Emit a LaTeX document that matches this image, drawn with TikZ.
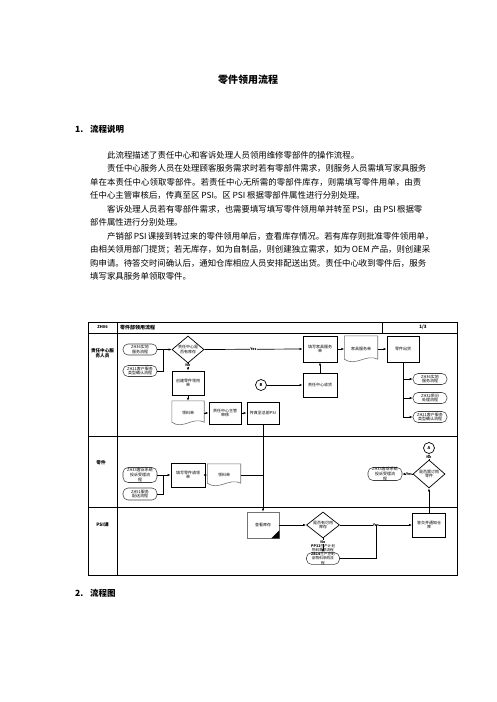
\documentclass[tikz,border=0pt]{standalone}
\usepackage{fontspec}
\setmainfont{Noto Sans CJK SC}
\usetikzlibrary{shapes.geometric,arrows.meta}
\makeatletter
\newcommand\spreadline[2]{\hbox to #1{\let\my@sep\relax\@tfor\my@ch:=#2\do{\my@sep\my@ch\let\my@sep\hfil}}}
\makeatother
\newcommand\docoutline[1]{\draw[docline] (#1.north west) -- (#1.north east) -- ([yshift=3pt]#1.south east) .. controls ([xshift=-11pt,yshift=9pt]#1.south east) and ([xshift=11pt,yshift=-5pt]#1.south west) .. ([yshift=3pt]#1.south west) -- cycle;}
\begin{document}
\begin{tikzpicture}[x=1pt,y=-1pt,
  every node/.style={inner sep=0pt},
  ptxt/.style={anchor=west,font=\fontsize{8.4}{10}\selectfont},
  frame/.style={line width=0.9pt},
  ln/.style={line width=0.7pt},
  arr/.style={line width=0.7pt,-{Latex[length=3pt,width=2.4pt]}},
  fc/.style={font=\fontsize{4}{4.6}\selectfont,align=center},
  procbox/.style={draw,line width=0.9pt,fc,minimum width=32pt,minimum height=24pt},
  termbox/.style={draw=black!75,line width=0.55pt,rounded corners=5pt,fc,minimum width=34pt,minimum height=11pt,fill=white},
  decision/.style={draw,diamond,line width=0.7pt,fc,minimum width=32pt,minimum height=27pt,aspect=1.2},
  docnode/.style={fc,minimum width=33pt,minimum height=24pt},
  docline/.style={draw=black!55,line width=0.6pt},
  conn/.style={circle,draw,line width=0.7pt,minimum size=11pt,font=\fontsize{4}{4.6}\selectfont\bfseries},
  lbl/.style={font=\fontsize{3.6}{4}\selectfont\bfseries,fill=white,inner sep=0.3pt},
  lane/.style={font=\fontsize{4.6}{5.4}\selectfont\bfseries,align=center}
]
\useasboundingbox (0,0) rectangle (496,702);

% ---- title and text ----
\node[font=\fontsize{10}{12}\selectfont\bfseries] (title) at (248,80) {零件领用流程};
\node[anchor=west,font=\fontsize{8.5}{10}\selectfont\bfseries] (n1) at (75,129) {1.};
\node[anchor=west,font=\fontsize{8.5}{10}\selectfont\bfseries] (h1) at (90,129) {流程说明};

\node[ptxt] (p1) at (107,155) {此流程描述了责任中心和客诉处理人员领用维修零部件的操作流程。};
\node[ptxt] (p2) at (107,168.5) {\spreadline{314pt}{责任中心服务人员在处理顾客服务需求时若有零部件需求，则服务人员需填写家具服务}};
\node[ptxt] (p3) at (90,182) {\spreadline{331pt}{单在本责任中心领取零部件。若责任中心无所需的零部件库存，则需填写零件用单，由责}};
\node[ptxt] (p4) at (90,195.5) {任中心主管审核后，传真至区 PSI。区 PSI 根据零部件属性进行分别处理。};
\node[ptxt] (p5) at (107,209) {\spreadline{314pt}{客诉处理人员若有零部件需求，也需要填写填写零件领用单并转至{\,PSI}，由{\,PSI\,}根据零}};
\node[ptxt] (p6) at (90,222.5) {部件属性进行分别处理。};
\node[ptxt] (p7) at (107,236) {\spreadline{314pt}{产销部{\,PSI\,}课接到转过来的零件领用单后，查看库存情况。若有库存则批准零件领用单，}};
\node[ptxt] (p8) at (90,249.5) {\spreadline{331pt}{由相关领用部门提货；若无库存，如为自制品，则创建独立需求，如为{\,OEM\,}产品，则创建采}};
\node[ptxt] (p9) at (90,263) {\spreadline{331pt}{购申请。待答交时间确认后，通知仓库相应人员安排配送出货。责任中心收到零件后，服务}};
\node[ptxt] (p10) at (90,276.5) {填写家具服务单领取零件。};

\node[anchor=west,font=\fontsize{8.5}{10}\selectfont\bfseries] (n2) at (75,593) {2.};
\node[anchor=west,font=\fontsize{8.5}{10}\selectfont\bfseries] (h2) at (90,593) {流程图};

% ---- frame ----
\draw[frame] (88,322) rectangle (457,575);
\draw[frame] (88,333) -- (457,333);
\draw[frame] (117,322) -- (117,575);
\draw[frame] (382,322) -- (382,333);
\draw[frame] (88,436) -- (457,436);
\draw[frame] (88,507) -- (457,507);
\node[font=\fontsize{4}{5}\selectfont\bfseries] (code) at (102.5,327.5) {ZH06};
\node[anchor=west,font=\fontsize{5}{6}\selectfont\bfseries] (htitle) at (120,327.5) {零件部领用流程};
\node[font=\fontsize{4.5}{5}\selectfont\bfseries] (page) at (423,327.5) {1/3};
\node[lane] (l1) at (102.5,353) {责任中心服\\务人员};
\node[lane] (l2) at (101,463) {零件};
\node[lane] (l3) at (102.5,525) {PSI课};

% ---- lane 1 ----
\node[termbox] (t1) at (140,349.5) {ZH36实地\\服务流程};
\node[termbox] (t2) at (140,371) {ZH21客户服务\\类型确认流程};
\coordinate (j1) at (163,349.5);
\node[decision] (d1) at (188,349.5) {责任中心是\\否有库存};
\node[procbox] (b1) at (188,383) {创建零件领用\\单};
\node[docnode,minimum width=32pt] (doc1) at (188,413) {领料单};
\docoutline{doc1}
\node[procbox,minimum height=22pt] (b2) at (225,413) {责任中心主管\\审核};
\node[procbox,minimum height=22pt] (b3) at (263,413) {传真至总部PSI};
\node[conn] (cB) at (261,385) {B};
\node[procbox,minimum width=34pt] (b4) at (320,385) {责任中心收货};
\node[procbox,minimum width=34pt,minimum height=26pt] (b5) at (320,349) {填写家具服务\\单};
\node[docnode,minimum height=26pt] (doc2) at (361,349) {家具服务单};
\docoutline{doc2}
\node[procbox,minimum height=26pt] (b6) at (403,349) {零件出货};
\node[termbox] (t3) at (430,379) {ZH36实地\\服务流程};
\node[termbox] (t4) at (430,398) {ZH32质问\\处理流程};
\node[termbox] (t5) at (430,417) {ZH21客户服务\\类型确认流程};
\coordinate (j3) at (403,417);

\draw[ln] (t2.east) -| (j1);
\draw[arr] (t1.east) -- (d1.west);
\draw[arr] (d1.east) -- node[lbl] (y1) {Yes} (b5.west);
\draw[arr] (d1.south) -- node[lbl,pos=0.3] (no1) {No} (b1.north);
\draw[arr] (b1.south) -- (doc1.north);
\draw[arr] (doc1.east) -- (b2.west);
\draw[arr] (b2.east) -- (b3.west);
\draw[arr] (cB.east) -- (b4.west);
\draw[arr] (b4.north) -- (b5.south);
\draw[arr] (b5.east) -- (doc2.west);
\draw[arr] (doc2.east) -- (b6.west);
\draw[ln] (b6.south) -- (j3);
\draw[arr] (b6.south |- t3.west) -- (t3.west);
\draw[arr] (b6.south |- t4.west) -- (t4.west);
\draw[arr] (j3) -- (t5.west);

% ---- lane 2 ----
\node[termbox,minimum height=15pt] (t6) at (140,475) {ZH33客诉系统\\投诉受理流\\程};
\node[termbox,minimum height=12pt] (t7) at (140,494) {ZH51服务\\配送流程};
\coordinate (j2) at (163,475);
\node[procbox,minimum width=34pt] (b7) at (188,475) {填写零件请领\\单};
\node[docnode,minimum height=22pt] (doc3) at (224,475) {领料单};
\docoutline{doc3}
\coordinate (j4) at (263,475);
\draw[ln] (t7.east) -| (j2);
\draw[arr] (t6.east) -- (b7.west);
\draw[arr] (b7.east) -- (doc3.west);
\draw[ln] (doc3.east) -- (j4);

\node[conn] (cA) at (429,448) {A};
\node[decision,minimum height=28pt] (d2) at (429,474) {是否需订购\\零件};
\node[termbox,minimum height=13pt] (t8) at (385,474) {ZH33客诉系统\\投诉受理流\\程};
\draw[arr] (d2.west) -- node[lbl,pos=0.35] (y2) {Yes} (t8.east);
\draw[arr] (d2.north) -- node[lbl,pos=0.35] (no2) {No} (cA.south);

% ---- lane 3 ----
\node[draw=black!55,line width=0.6pt,fc,minimum width=32pt,minimum height=26pt] (card) at (263,525) {查看库存};
\fill (card.south east) -- ++(-8pt,0pt) -- ++(8pt,8pt) -- cycle;
\node[decision,minimum width=33pt,minimum height=26pt] (d3) at (323,525) {是否有可用\\库存};
\node[procbox,minimum width=33pt] (b9) at (429,525) {答交并通知仓\\库};
\node[fc,font=\fontsize{3.6}{4}\selectfont] (pp) at (323,548) {\textbf{PP32}生产计划\\物料需求流程};
\node[termbox,minimum width=33pt,minimum height=11pt,font=\fontsize{3.6}{4.2}\selectfont] (t9) at (323,558.5) {\textbf{ZB14}生产控制\\部物料采购流\\程};
\coordinate (j5) at (376,558.5);
\coordinate (j6) at (376,525);

\draw[arr] (b3.south) -- (card.north);
\draw[arr] (card.east) -- (d3.west);
\draw[arr] (d3.east) -- node[lbl] (y3) {Yes} (b9.west);
\draw[arr] (d3.south) -- node[lbl,pos=0.25] (no3) {No} (t9.north);
\draw[ln] (t9.east) -- (j5) -- (j6);
\draw[arr] (b9.north) -- (d2.south);
\end{tikzpicture}
\end{document}
